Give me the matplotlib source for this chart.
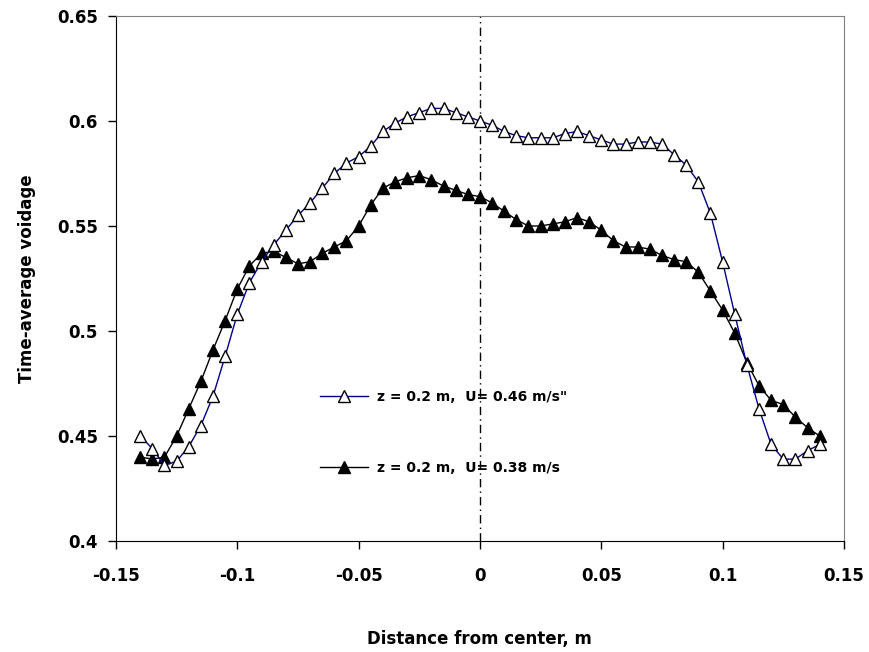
import numpy as np
import matplotlib
matplotlib.use("Agg")
import matplotlib.pyplot as plt

plt.rcParams['font.family'] = ['DejaVu Sans']
plt.rcParams['font.weight'] = 'bold'

# radial position, m
x = [-0.140, -0.135, -0.130, -0.125, -0.120, -0.115, -0.110, -0.105, -0.100, -0.095,
     -0.090, -0.085, -0.080, -0.075, -0.070, -0.065, -0.060, -0.055, -0.050, -0.045,
     -0.040, -0.035, -0.030, -0.025, -0.020, -0.015, -0.010, -0.005, 0.000, 0.005,
     0.010, 0.015, 0.020, 0.025, 0.030, 0.035, 0.040, 0.045, 0.050, 0.055,
     0.060, 0.065, 0.070, 0.075, 0.080, 0.085, 0.090, 0.095, 0.100, 0.105,
     0.110, 0.115, 0.120, 0.125, 0.130, 0.135, 0.140]

# U = 0.46 m/s (open triangles)
void_046 = [0.450, 0.444, 0.436, 0.438, 0.445, 0.455, 0.469, 0.488, 0.508, 0.523,
            0.533, 0.541, 0.548, 0.555, 0.561, 0.568, 0.575, 0.580, 0.583, 0.588,
            0.595, 0.599, 0.602, 0.604, 0.606, 0.606, 0.604, 0.602, 0.600, 0.598,
            0.595, 0.593, 0.592, 0.592, 0.592, 0.594, 0.595, 0.593, 0.591, 0.589,
            0.589, 0.590, 0.590, 0.589, 0.584, 0.579, 0.571, 0.556, 0.533, 0.508,
            0.484, 0.463, 0.446, 0.439, 0.439, 0.443, 0.446]

# U = 0.38 m/s (filled triangles)
void_038 = [0.440, 0.439, 0.440, 0.450, 0.463, 0.476, 0.491, 0.505, 0.520, 0.531,
            0.537, 0.538, 0.535, 0.532, 0.533, 0.537, 0.540, 0.543, 0.550, 0.560,
            0.568, 0.571, 0.573, 0.574, 0.572, 0.569, 0.567, 0.565, 0.564, 0.561,
            0.557, 0.553, 0.550, 0.550, 0.551, 0.552, 0.554, 0.552, 0.548, 0.543,
            0.540, 0.540, 0.539, 0.536, 0.534, 0.533, 0.528, 0.519, 0.510, 0.499,
            0.485, 0.474, 0.467, 0.465, 0.459, 0.454, 0.450]

labels = ['z = 0.2 m,  U= 0.46 m/s"', 'z = 0.2 m,  U= 0.38 m/s']
xticks = [-0.15, -0.1, -0.05, 0, 0.05, 0.1, 0.15]
yticks = [0.4, 0.45, 0.5, 0.55, 0.6, 0.65]

fs = 12

fig = plt.figure(figsize=(8.7, 6.52), dpi=100)
ax = fig.add_axes([0.1333, 0.1702, 0.8367, 0.8053])

ax.axvline(0, color='black', lw=1, linestyle=(0, (6, 3, 1, 3)), zorder=1)

ax.plot(x, void_046, color='#00008B', lw=1, marker='^', ms=8.5,
        mfc='white', mec='black', mew=1, label=labels[0], zorder=3)
ax.plot(x, void_038, color='black', lw=1, marker='^', ms=8.5,
        mfc='black', mec='black', mew=1, label=labels[1], zorder=2)

ax.set_xlim(-0.15, 0.15)
ax.set_ylim(0.4, 0.65)
ax.set_xticks(xticks)
ax.set_xticklabels(['-0.15', '-0.1', '-0.05', '0', '0.05', '0.1', '0.15'])
ax.set_yticks(yticks)
ax.set_yticklabels(['0.4', '0.45', '0.5', '0.55', '0.6', '0.65'])
ax.tick_params(direction='out', length=6, width=1, labelsize=fs)
ax.tick_params(axis='x', pad=13)
ax.tick_params(axis='y', pad=7)

for s in ['top', 'right']:
    ax.spines[s].set_color('#808080')
for s in ['left', 'bottom']:
    ax.spines[s].set_color('black')

ax.set_xlabel('Distance from center, m', fontsize=fs, fontweight='bold', labelpad=32)
ax.set_ylabel('Time-average voidage', fontsize=fs, fontweight='bold', labelpad=15)

ax.legend(loc='upper left', bbox_to_anchor=(0.28, 0.288), frameon=False,
          prop={'weight': 'bold', 'size': 10},
          numpoints=1, handlelength=3.5, handletextpad=0.6,
          labelspacing=4.1, borderpad=0, borderaxespad=0)

fig.savefig('out.png', dpi=100)
